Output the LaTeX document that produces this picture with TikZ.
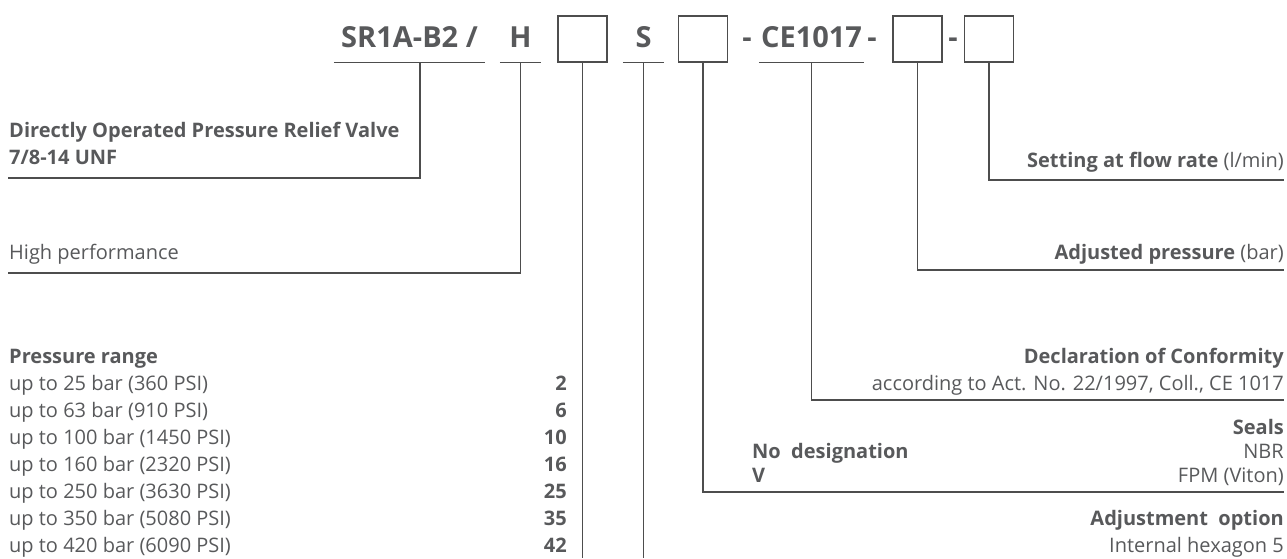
\documentclass[tikz,border=0pt]{standalone}
\usepackage{fontspec}
\setmainfont{Open Sans}
\definecolor{txtgray}{HTML}{58595B}
\definecolor{lngray}{HTML}{4D4D4D}

\begin{document}
\begin{tikzpicture}[x=1pt,y=-1pt,
	ln/.style={draw=lngray,line width=1.3pt},
	code/.style={font=\fontsize{29}{35}\selectfont\bfseries,text=txtgray,inner sep=0pt,text height=21pt,text depth=4pt},
	field/.style={code,minimum height=46pt},
	slot/.style={draw=lngray,line width=1.3pt,minimum width=49pt,minimum height=46pt,inner sep=0pt},
	lbl/.style={font=\fontsize{20}{24}\selectfont,text=txtgray,inner sep=0pt,text height=14.3pt,text depth=0pt},
	lblb/.style={lbl,font=\fontsize{20}{24}\selectfont\bfseries},
	]
	\useasboundingbox (0,0) rectangle (1287,558);
	\node[field,minimum width=151pt] (sr) at (409.5,39) {SR1A-B2 /};
	\node[field,minimum width=41pt] (h) at (520.5,39) {H};
	\node[slot] (bx1) at (582.5,39) {};
	\node[field,minimum width=41pt] (s) at (643.5,39) {S};
	\node[slot] (bx2) at (703,39) {};
	\node[code] (d1) at (747,39) {-};
	\node[field,minimum width=105pt] (ce) at (811.5,39) {CE1017};
	\node[code] (d2) at (872,39) {-};
	\node[slot] (bx3) at (917.5,39) {};
	\node[code] (d3) at (953,39) {-};
	\node[slot] (bx4) at (989,39) {};
	\draw[ln] (sr.south west) -- (sr.south east);
	\draw[ln] (h.south west) -- (h.south east);
	\draw[ln] (s.south west) -- (s.south east);
	\draw[ln] (ce.south west) -- (ce.south east);
	\coordinate (srdrop) at (420,62);
	\coordinate (bot) at (0,558);
	\coordinate (l1) at (8,178);
	\coordinate (l2) at (8,273);
	\coordinate (r1) at (1284,180);
	\coordinate (r2) at (1284,270);
	\coordinate (r3) at (1284,400);
	\coordinate (r4) at (1284,492);
	\draw[ln] (srdrop) |- (l1);
	\draw[ln] (h.south) |- (l2);
	\draw[ln] (bx1.south) -- (bx1.south |- bot);
	\draw[ln] (s.south) -- (s.south |- bot);
	\draw[ln] (bx2.south) |- (r4);
	\draw[ln] (ce.south) |- (r3);
	\draw[ln] (bx3.south) |- (r2);
	\draw[ln] (bx4.south) |- (r1);
	\node[lblb,anchor=west] (valve) at (9,130) {Directly Operated Pressure Relief Valve};
	\node[lblb,anchor=west] (thread) at (9,157) {7/8-14 UNF};
	\node[lbl,anchor=west] (perf) at (9,252) {High performance};
	\node[lblb,anchor=west] (prange) at (9,356) {Pressure range};
	\node[lbl,anchor=west] (p1) at (9,383) {up to 25 bar (360 PSI)};
	\node[lbl,anchor=west] (p2) at (9,410) {up to 63 bar (910 PSI)};
	\node[lbl,anchor=west] (p3) at (9,437) {up to 100 bar (1450 PSI)};
	\node[lbl,anchor=west] (p4) at (9,464) {up to 160 bar (2320 PSI)};
	\node[lbl,anchor=west] (p5) at (9,491) {up to 250 bar (3630 PSI)};
	\node[lbl,anchor=west] (p6) at (9,518) {up to 350 bar (5080 PSI)};
	\node[lbl,anchor=west] (p7) at (9,545) {up to 420 bar (6090 PSI)};
	\node[lblb,anchor=east] (c1) at (567,383) {2};
	\node[lblb,anchor=east] (c2) at (567,410) {6};
	\node[lblb,anchor=east] (c3) at (567,437) {10};
	\node[lblb,anchor=east] (c4) at (567,464) {16};
	\node[lblb,anchor=east] (c5) at (567,491) {25};
	\node[lblb,anchor=east] (c6) at (567,518) {35};
	\node[lblb,anchor=east] (c7) at (567,545) {42};
	\node[lbl,anchor=east] (flow) at (1284,160) {\textbf{Setting at flow rate} (l/min)};
	\node[lbl,anchor=east] (adj) at (1284,252) {\textbf{Adjusted pressure} (bar)};
	\node[lblb,anchor=east] (decl) at (1284,356) {Declaration of Conformity};
	\node[lbl,anchor=east] (act) at (1284,383) {according to Act. No. 22/1997, Coll., CE 1017};
	\node[lblb,anchor=east] (seals) at (1284,427) {Seals};
	\node[lbl,anchor=east] (nbr) at (1284,451) {NBR};
	\node[lbl,anchor=east] (fpm) at (1284,475) {FPM (Viton)};
	\node[lblb,anchor=west] (nodes) at (752,451) {No\ \ designation};
	\node[lblb,anchor=west] (v) at (752,475) {V};
	\node[lblb,anchor=east] (adjopt) at (1284,518) {Adjustment\ \ option};
	\node[lbl,anchor=east] (hex) at (1284,545) {Internal hexagon 5};
\end{tikzpicture}
\end{document}
